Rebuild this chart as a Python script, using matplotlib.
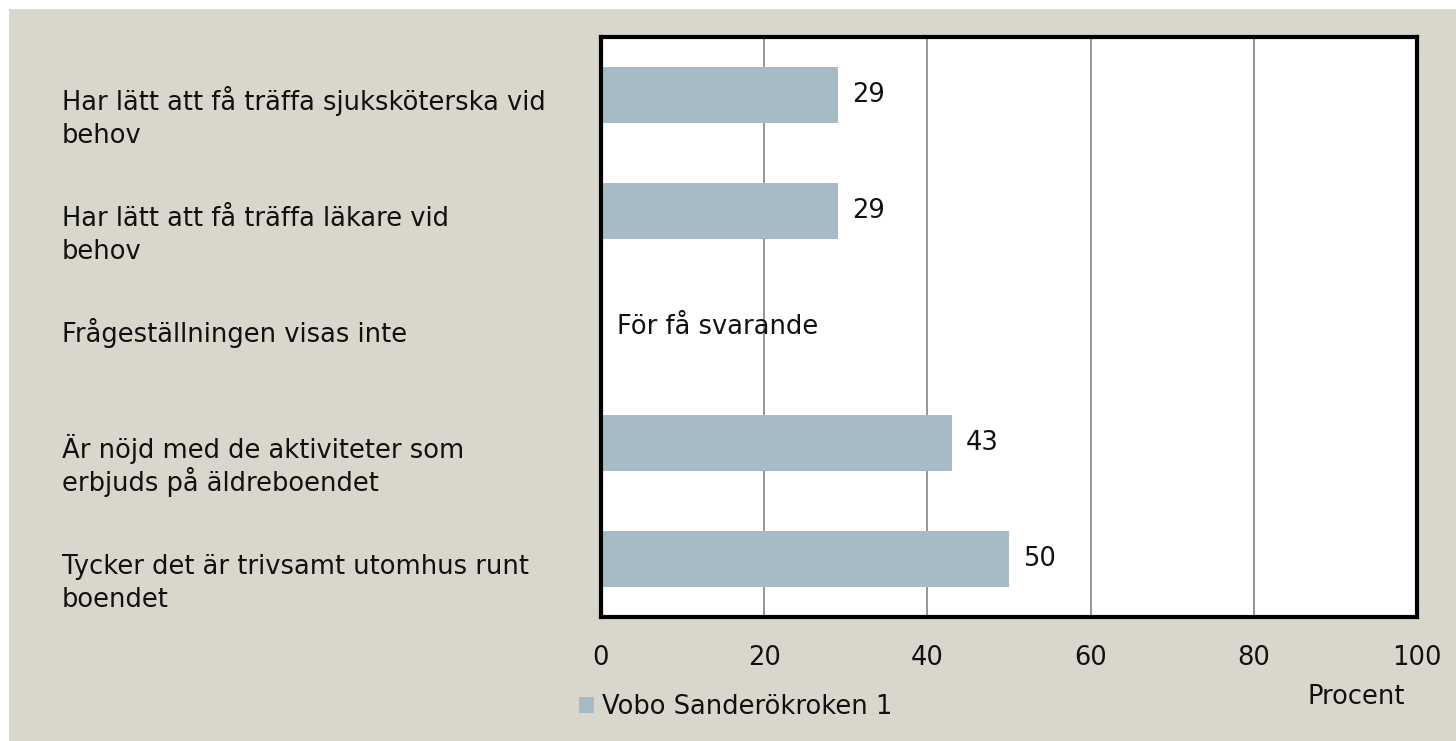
import matplotlib
matplotlib.use("Agg")
import matplotlib.pyplot as plt
import matplotlib.transforms as mtransforms
from matplotlib.patches import Rectangle, Patch

# ---- data ----
categories = [
    "Har lätt att få träffa sjuksköterska vid\nbehov",
    "Har lätt att få träffa läkare vid\nbehov",
    "Frågeställningen visas inte",
    "Är nöjd med de aktiviteter som\nerbjuds på äldreboendet",
    "Tycker det är trivsamt utomhus runt\nboendet",
]
values = [29, 29, None, 43, 50]
series_name = "Vobo Sanderökroken 1"
missing_text = "För få svarande"
xticks = [0, 20, 40, 60, 80, 100]
x_label = "Procent"

# ---- style ----
BG = "#d9d7cb"
BAR = "#a7bbc6"
FONT = "DejaVu Sans"
FS = 18.5
PX = 0.72  # points per pixel at 100 dpi

plt.rcParams["font.family"] = [FONT]

W, H = 1456, 741
fig = plt.figure(figsize=(W / 100, H / 100), dpi=100)
fig.patch.set_facecolor("white")
fig.add_artist(Rectangle((9 / W, 0), 1, 1 - 9 / H, transform=fig.transFigure,
                         facecolor=BG, edgecolor="none", zorder=-10))

ax = fig.add_axes([601 / W, 1 - 617 / H, 816 / W, 580 / H])
ax.set_facecolor("white")

ypos = list(range(len(categories)))
for i, v in zip(ypos, values):
    if v is None:
        ax.annotate(missing_text, xy=(0, i), xytext=(16 * PX, 0), textcoords="offset points",
                    ha="left", va="center", fontsize=FS, color="#111111", zorder=5)
        continue
    ax.barh(i, v, height=0.49, color=BAR, zorder=3)
    ax.annotate(f"{v}", xy=(v, i), xytext=(14 * PX, 0), textcoords="offset points",
                ha="left", va="center", fontsize=FS, color="#111111")

ax.set_xlim(0, 100)
ax.set_ylim(len(categories) - 0.5, -0.5)
ax.set_xticks(xticks)
ax.set_xticklabels([str(t) for t in xticks])
ax.set_yticks([])
ax.tick_params(axis="x", length=0, pad=20, labelsize=FS, labelcolor="#111111")
ax.grid(axis="x", color="#8c8c8c", linewidth=1.3, zorder=1)
ax.set_axisbelow(True)
for s in ax.spines.values():
    s.set_linewidth(3)
    s.set_color("black")
    s.set_zorder(6)

# category labels (one text per line, baselines below category centre)
tr = mtransforms.blended_transform_factory(fig.transFigure, ax.transData)
for i, lab in zip(ypos, categories):
    for k, line in enumerate(lab.split("\n")):
        ax.annotate(line, xy=(62 / W, i), xycoords=tr,
                    xytext=(0, -(15 + 33 * k) * PX), textcoords="offset points",
                    ha="left", va="baseline", fontsize=FS, color="#111111",
                    annotation_clip=False)

# x label
ax.set_xlabel(x_label, fontsize=FS, color="#111111")
ax.xaxis.set_label_coords((1356 - 601) / 816, (617 - 697) / 580)
ax.xaxis.label.set_va("center")

# legend
fig.legend(handles=[Patch(facecolor=BAR, edgecolor="none")], labels=[series_name],
           loc="center left", bbox_to_anchor=(579 / W, 1 - 707 / H), frameon=False,
           fontsize=FS, handlelength=0.6, handleheight=0.6, handletextpad=0.28,
           borderpad=0, borderaxespad=0, labelcolor="#111111")

fig.savefig("out.png", dpi=100, facecolor=fig.get_facecolor())
